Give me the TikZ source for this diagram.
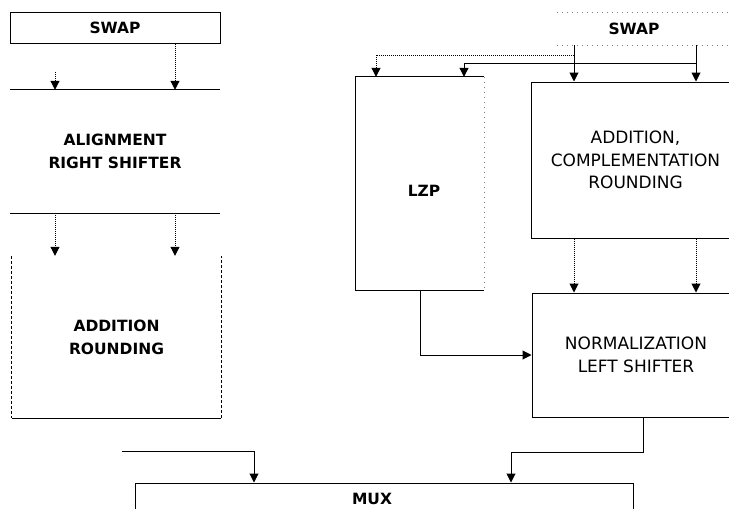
\documentclass[tikz,border=0pt]{standalone}
\usepackage{fontspec}
\setmainfont{DejaVu Sans}
\usetikzlibrary{arrows.meta}

\begin{document}
\begin{tikzpicture}[x=1pt, y=-1pt,
        blk/.style={rectangle, draw, line width=1pt, inner sep=0pt, align=center},
        open/.style={rectangle, inner sep=0pt, align=center},
        bold/.style={font=\bfseries\fontsize{15.5}{23}\selectfont},
        light/.style={font=\fontsize{17}{22.5}\selectfont},
        wire/.style={line width=1pt},
        arr/.style={wire, -{Triangle[length=9pt, width=9pt]}},
        faint/.style={wire, gray, loosely dotted}]

        \useasboundingbox (0,0) rectangle (729,509);
        \clip (0,0) rectangle (729,509);

        % Left datapath
        \node[blk, bold, minimum width=210pt, minimum height=31pt] (swapL) at (115,27.5) {SWAP};
        \node[open, bold, minimum width=210pt, minimum height=123pt] (align) at (115,151.5) {ALIGNMENT\\RIGHT SHIFTER};
        \node[open, bold, minimum width=209pt, minimum height=162pt] (addrnd) at (116.5,337) {ADDITION\\ROUNDING};

        % Only the edges that show
        \draw[wire] (align.north west) -- (align.north east);
        \draw[wire] (align.south west) -- (align.south east);
        \draw[wire, densely dashed] (addrnd.north west) -- (addrnd.south west);
        \draw[wire] (addrnd.south west) -- (addrnd.south east);
        \draw[wire, densely dashed] (addrnd.south east) -- (addrnd.north east);

        \coordinate (xa) at (55,0);
        \coordinate (xb) at (175,0);
        \coordinate (inA) at (55,72);
        \draw[arr, densely dotted] (inA) -- (align.north -| xa);
        \draw[arr, densely dotted] (swapL.south -| xb) -- (align.north -| xb);
        \foreach \c in {xa,xb}
                \draw[arr, densely dotted] (align.south -| \c) -- (addrnd.north -| \c);

        % Right datapath
        \node[open, bold, minimum width=154pt, minimum height=32pt] (swapR) at (634,29) {SWAP};
        \node[open, minimum width=128pt, minimum height=213pt,
                label={[bold, xshift=4pt, yshift=-7pt]center:LZP}] (lzp) at (420,183.5) {};
        \node[blk, light, minimum width=209pt, minimum height=156pt] (addcmp) at (635.5,160) {ADDITION,\\COMPLEMENTATION\\ROUNDING};
        \node[blk, light, minimum width=208pt, minimum height=124pt] (norm) at (636,355) {NORMALIZATION\\LEFT SHIFTER};

        \coordinate (xr) at (735,0);
        \draw[faint] (swapR.north west) -- (swapR.north -| xr);
        \draw[faint] (swapR.south west) -- (swapR.south -| xr);
        \draw[wire] (lzp.north east) -- (lzp.north west) -- (lzp.south west) -- (lzp.south east);
        \draw[faint] (lzp.north east) -- (lzp.south east);

        \coordinate (xc) at (574,0);
        \coordinate (xd) at (696,0);
        \coordinate (xe) at (376,0);
        \coordinate (xf) at (464,0);
        \coordinate (tapC) at (574,55);
        \coordinate (tapD) at (696,63);
        \draw[arr] (swapR.south -| xc) -- (addcmp.north -| xc);
        \draw[arr] (swapR.south -| xd) -- (addcmp.north -| xd);
        \draw[arr, densely dotted] (tapC) -| (lzp.north -| xe);
        \draw[arr] (tapD) -| (lzp.north -| xf);
        \foreach \c in {xc,xd}
                \draw[arr, densely dotted] (addcmp.south -| \c) -- (norm.north -| \c);

        \coordinate (xg) at (420,0);
        \draw[arr] (lzp.south -| xg) |- (norm.west);

        % Output multiplexer
        \node[blk, minimum width=498pt, minimum height=32pt,
                label={[bold, xshift=-12pt]center:MUX}] (mux) at (384,499) {};

        \coordinate (xh) at (643,0);
        \coordinate (xi) at (511,0);
        \coordinate (xj) at (254,0);
        \coordinate (inM) at (122,451);
        \draw[arr] (norm.south -| xh) -- ++(0,35) -| (mux.north -| xi);
        \draw[arr] (inM) -| (mux.north -| xj);
\end{tikzpicture}
\end{document}
